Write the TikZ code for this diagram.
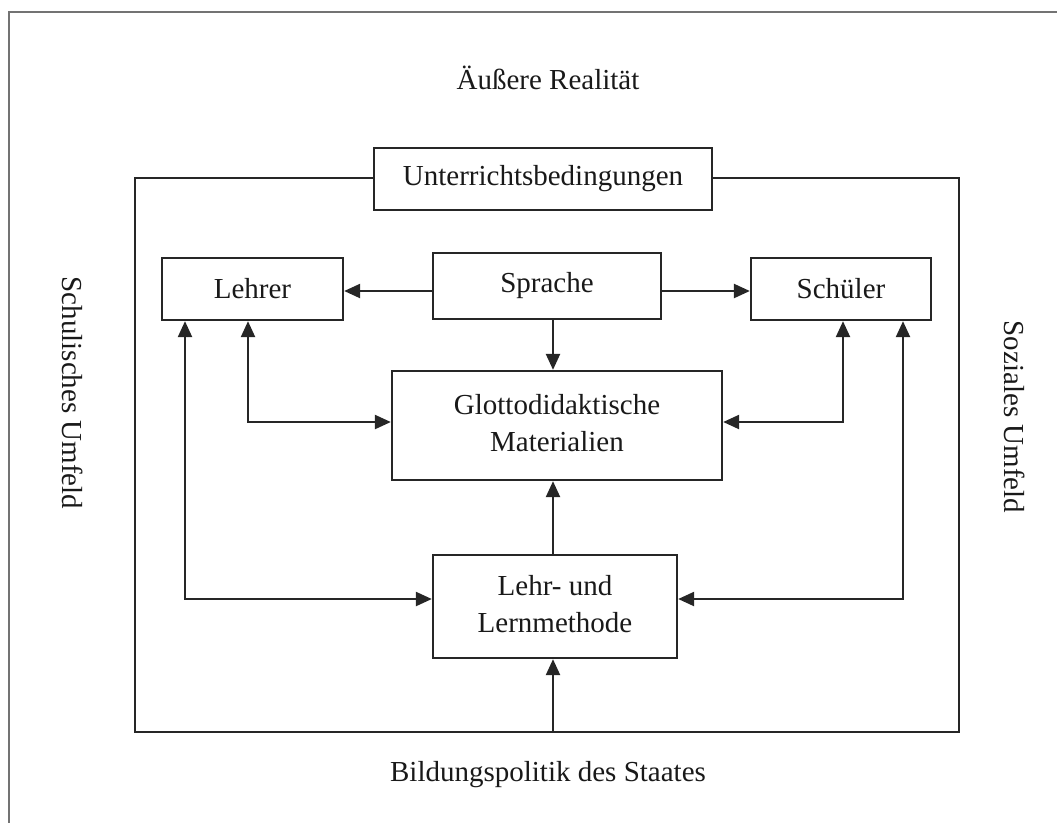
\documentclass[tikz,border=0pt]{standalone}
\usepackage{fontspec}
\setmainfont{Liberation Serif}
\usetikzlibrary{arrows.meta}
\begin{document}
\begin{tikzpicture}[x=1pt,y=-1pt,
  ln/.style={draw=black!85,line width=2.3pt},
  box/.style={ln,fill=white,inner sep=0pt,align=center,text=black!90,font=\fontsize{29}{37}\selectfont},
  lbl/.style={inner sep=0pt,font=\fontsize{29}{37}\selectfont,text=black!90},
  tip/.style={Triangle[length=16pt,width=14pt]},
  arr/.style={ln,-{Triangle[length=16pt,width=14pt]}},
  darr/.style={ln,{Triangle[length=16pt,width=14pt]}-{Triangle[length=16pt,width=14pt]}}]
\useasboundingbox (0,0) rectangle (1057,823);
% outer frame (only top and left edges visible)
\draw[draw=black!55,line width=2pt] (1057,12) -- (9,12) -- (9,823);
% inner frame
\coordinate (fTL) at (135,178);
\coordinate (fBR) at (959,732);
\draw[ln] (fTL) rectangle (fBR);
% nodes
\node[box,minimum width=338pt,minimum height=62pt] (unt) at (543,179) {Unterrichtsbedingungen};
\node[box,minimum width=181pt,minimum height=62pt] (lehrer) at (252.5,289) {Lehrer};
\node[box,minimum width=228pt,minimum height=66pt] (sprache) at (547,286) {\raisebox{4pt}{Sprache}};
\node[box,minimum width=180pt,minimum height=62pt] (schueler) at (841,289) {Sch\"uler};
\node[box,minimum width=330pt,minimum height=109pt] (glotto) at (557,425.5) {\raisebox{5pt}{\begin{tabular}{@{}c@{}}Glottodidaktische\\Materialien\end{tabular}}};
\node[box,minimum width=244pt,minimum height=103pt] (lehr) at (555,606.5) {\raisebox{3pt}{\begin{tabular}{@{}c@{}}Lehr- und\\Lernmethode\end{tabular}}};
% labels
\node[lbl] (aussen) at (548,78) {\"Au\ss ere Realit\"at};
\node[lbl] (bildung) at (548,775) {Bildungspolitik des Staates};
\node[lbl,rotate=-90] (schul) at (73,393) {Schulisches Umfeld};
\node[lbl,rotate=-90] (sozial) at (1015,417) {Soziales Umfeld};
% helper coordinates
\coordinate (xa) at (553,0);
\coordinate (xl1) at (185,0);
\coordinate (xl2) at (248,0);
\coordinate (xs1) at (843,0);
\coordinate (xs2) at (903,0);
\coordinate (yg) at (0,422);
\coordinate (ym) at (0,599);
\coordinate (ys) at (0,291);
% connectors
\draw[arr] (sprache.west |- ys) -- (lehrer.east |- ys);
\draw[arr] (sprache.east |- ys) -- (schueler.west |- ys);
\draw[arr] (sprache.south -| xa) -- (glotto.north -| xa);
\draw[arr] (lehr.north -| xa) -- (glotto.south -| xa);
\draw[arr] (fBR -| xa) -- (lehr.south -| xa);
\draw[darr] (lehrer.south -| xl2) -- (xl2 |- yg) -- (glotto.west |- yg);
\draw[darr] (schueler.south -| xs1) -- (xs1 |- yg) -- (glotto.east |- yg);
\draw[darr] (lehrer.south -| xl1) -- (xl1 |- ym) -- (lehr.west |- ym);
\draw[darr] (schueler.south -| xs2) -- (xs2 |- ym) -- (lehr.east |- ym);
\end{tikzpicture}
\end{document}
